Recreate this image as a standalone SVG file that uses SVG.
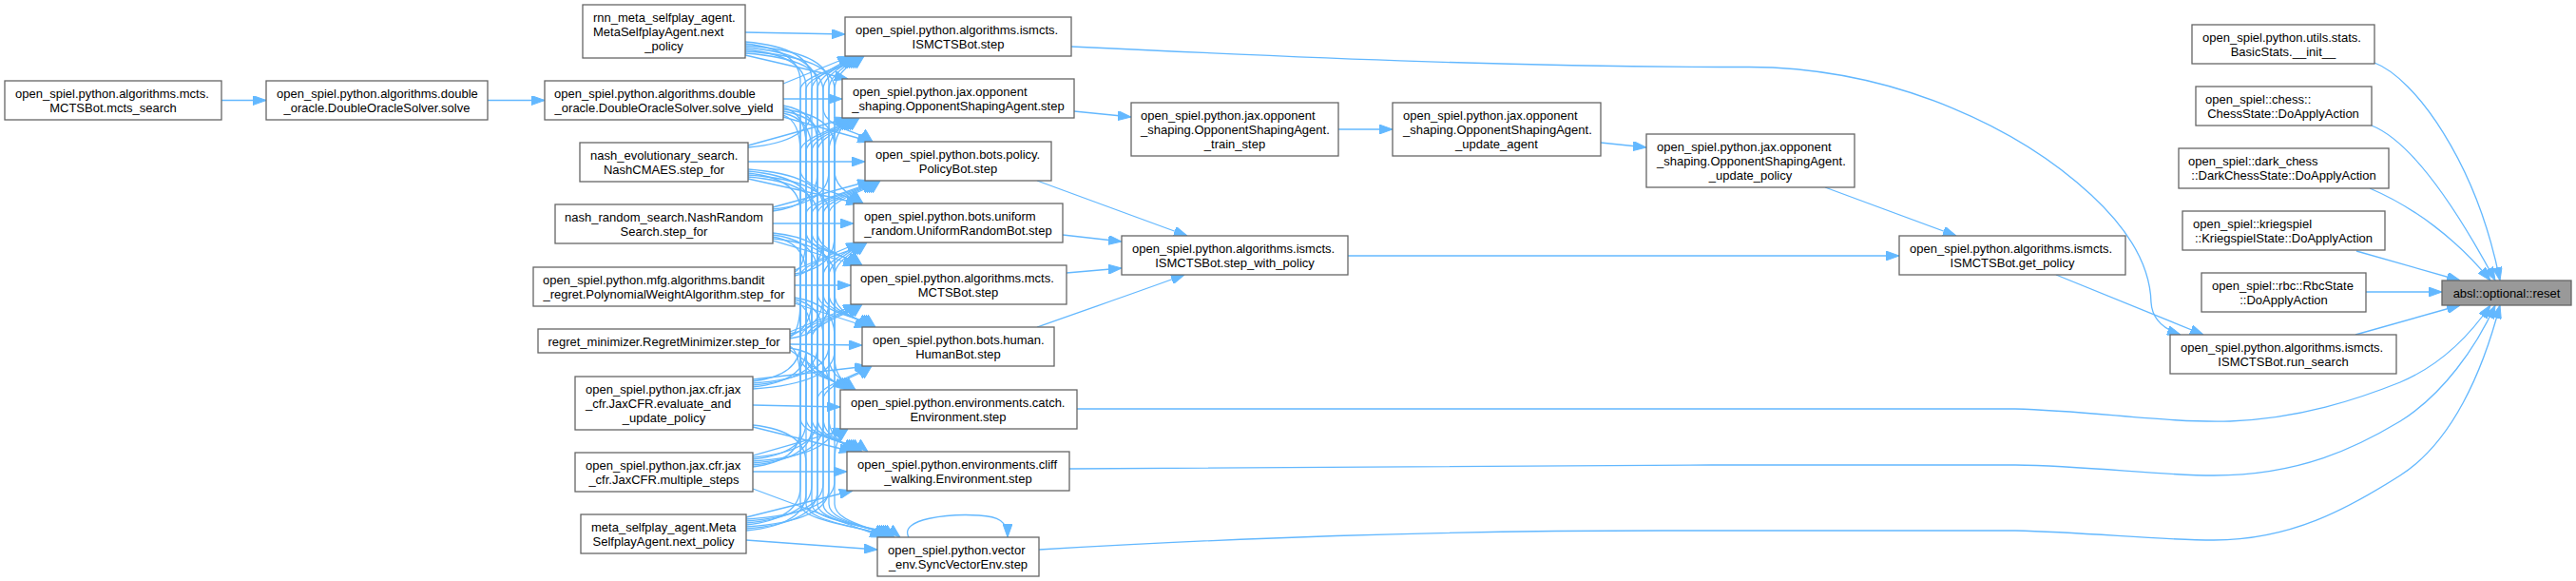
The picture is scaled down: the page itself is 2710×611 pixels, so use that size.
<svg xmlns="http://www.w3.org/2000/svg" width="2710" height="611" viewBox="0 0 2710 611">
<defs>
<style>
.node rect{fill:#fff;stroke:#666;stroke-width:1.3}
.node.focus rect{fill:#999;stroke:#666}
.node text{font-family:"Liberation Sans",Arial,Helvetica,sans-serif;font-size:13px;fill:#000}
.node text.c{text-anchor:middle}
.e{fill:none;stroke:#63b8ff;stroke-width:1.3;marker-end:url(#ah)}
</style>
<marker id="ah" viewBox="0 0 14 10" refX="14" refY="5" markerWidth="14" markerHeight="10" markerUnits="userSpaceOnUse" orient="auto">
<path d="M0,0 L14,5 L0,10 z" fill="#63b8ff" stroke="#63b8ff" stroke-width="1"/>
</marker>
</defs>
<rect width="2710" height="611" fill="#fff"/>
<g id="edges">
<path class="e" d="M233,105.5 L280,105.5"/>
<path class="e" d="M513,105.5 L573,105.5"/>
<path class="e" d="M784,34 L889,36"/>
<path class="e" d="M824,104 L886,104"/>
<path class="e" d="M787,170 L910,170"/>
<path class="e" d="M813,235 L898,235"/>
<path class="e" d="M836,300 L895,300"/>
<path class="e" d="M831,362 L907,363"/>
<path class="e" d="M792,426 L884,428"/>
<path class="e" d="M792,496 L891,496"/>
<path class="e" d="M785,568 L923,578"/>
<path class="e" d="M784,58 L892,83"/>
<path class="e" d="M784,56 C825,59 866,68 866,96 L866,114 C866,134 906,139 918,149"/>
<path class="e" d="M784,54 C831,57 878,66 878,94 L878,179 C878,199 896,204 908,214"/>
<path class="e" d="M784,52 C816,55 848,64 848,92 L848,244 C848,264 895,269 907,279"/>
<path class="e" d="M784,50 C822,53 860,62 860,90 L860,309 C860,329 909,334 921,344"/>
<path class="e" d="M784,48 C828,51 872,60 872,88 L872,375 C872,395 888,400 900,410"/>
<path class="e" d="M784,46 C813,49 842,58 842,86 L842,440 C842,460 901,465 913,475"/>
<path class="e" d="M784,44 C819,47 854,56 854,84 L854,530 C854,550 935,555 947,565"/>
<path class="e" d="M824,88 L895,59"/>
<path class="e" d="M824,123 L916,149"/>
<path class="e" d="M824,121 C833,124 842,133 842,161 L842,179 C842,199 894,204 906,214"/>
<path class="e" d="M824,119 C839,122 854,131 854,159 L854,244 C854,264 893,269 905,279"/>
<path class="e" d="M824,117 C845,120 866,129 866,157 L866,309 C866,329 907,334 919,344"/>
<path class="e" d="M824,115 C851,118 878,127 878,155 L878,375 C878,395 886,400 898,410"/>
<path class="e" d="M824,113 C836,116 848,125 848,153 L848,440 C848,460 895,465 907,475"/>
<path class="e" d="M824,111 C842,114 860,123 860,151 L860,530 C860,550 929,555 941,565"/>
<path class="e" d="M787,155 C820,152 854,143 854,115 L854,94 C854,79 885,69 897,59"/>
<path class="e" d="M787,153 L892,124"/>
<path class="e" d="M787,188 L904,214"/>
<path class="e" d="M787,186 C823,189 860,198 860,226 L860,244 C860,264 891,269 903,279"/>
<path class="e" d="M787,184 C829,187 872,196 872,224 L872,309 C872,329 905,334 917,344"/>
<path class="e" d="M787,182 C814,185 842,194 842,222 L842,375 C842,395 884,400 896,410"/>
<path class="e" d="M787,180 C820,183 854,192 854,220 L854,440 C854,460 893,465 905,475"/>
<path class="e" d="M787,178 C826,181 866,190 866,218 L866,530 C866,550 927,555 939,565"/>
<path class="e" d="M813,222 C836,219 860,210 860,182 L860,94 C860,79 887,69 899,59"/>
<path class="e" d="M813,220 C842,217 872,208 872,180 L872,159 C872,144 882,134 894,124"/>
<path class="e" d="M813,218 L916,190"/>
<path class="e" d="M813,253 L901,279"/>
<path class="e" d="M813,251 C845,254 878,263 878,291 L878,309 C878,329 903,334 915,344"/>
<path class="e" d="M813,249 C830,252 848,261 848,289 L848,375 C848,395 882,400 894,410"/>
<path class="e" d="M813,247 C836,250 860,259 860,287 L860,440 C860,460 891,465 903,475"/>
<path class="e" d="M813,245 C842,248 872,257 872,285 L872,530 C872,550 925,555 937,565"/>
<path class="e" d="M836,290 C851,287 866,278 866,250 L866,94 C866,79 889,69 901,59"/>
<path class="e" d="M836,288 C857,285 878,276 878,248 L878,159 C878,144 884,134 896,124"/>
<path class="e" d="M836,286 C842,283 848,274 848,246 L848,225 C848,210 906,200 918,190"/>
<path class="e" d="M836,284 L904,255"/>
<path class="e" d="M836,319 L913,344"/>
<path class="e" d="M836,317 C845,320 854,329 854,357 L854,375 C854,395 880,400 892,410"/>
<path class="e" d="M836,315 C851,318 866,327 866,355 L866,440 C866,460 889,465 901,475"/>
<path class="e" d="M836,313 C857,316 878,325 878,353 L878,530 C878,550 923,555 935,565"/>
<path class="e" d="M831,356 C851,353 872,344 872,316 L872,94 C872,79 891,69 903,59"/>
<path class="e" d="M831,355 C836,352 842,343 842,315 L842,159 C842,144 886,134 898,124"/>
<path class="e" d="M831,353 C842,350 854,341 854,313 L854,225 C854,210 908,200 920,190"/>
<path class="e" d="M831,351 C848,348 866,339 866,311 L866,290 C866,275 894,265 906,255"/>
<path class="e" d="M831,349 L901,320"/>
<path class="e" d="M831,368 L890,410"/>
<path class="e" d="M831,366 C851,369 872,378 872,406 L872,440 C872,460 887,465 899,475"/>
<path class="e" d="M831,364 C836,367 842,376 842,404 L842,530 C842,550 921,555 933,565"/>
<path class="e" d="M792,409 C835,406 878,397 878,369 L878,94 C878,79 893,69 905,59"/>
<path class="e" d="M792,407 C820,404 848,395 848,367 L848,159 C848,144 888,134 900,124"/>
<path class="e" d="M792,405 C826,402 860,393 860,365 L860,225 C860,210 910,200 922,190"/>
<path class="e" d="M792,403 C832,400 872,391 872,363 L872,290 C872,275 896,265 908,255"/>
<path class="e" d="M792,401 C817,398 842,389 842,361 L842,355 C842,340 891,330 903,320"/>
<path class="e" d="M792,399 L913,385"/>
<path class="e" d="M792,449 L897,475"/>
<path class="e" d="M792,447 C820,450 848,459 848,487 L848,530 C848,550 919,555 931,565"/>
<path class="e" d="M792,491 C817,488 842,479 842,451 L842,94 C842,79 895,69 907,59"/>
<path class="e" d="M792,489 C823,486 854,477 854,449 L854,159 C854,144 890,134 902,124"/>
<path class="e" d="M792,487 C829,484 866,475 866,447 L866,225 C866,210 912,200 924,190"/>
<path class="e" d="M792,485 C835,482 878,473 878,445 L878,290 C878,275 898,265 910,255"/>
<path class="e" d="M792,483 C820,480 848,471 848,443 L848,355 C848,340 893,330 905,320"/>
<path class="e" d="M792,481 C826,478 860,469 860,441 L860,420 C860,405 903,395 915,385"/>
<path class="e" d="M792,479 L890,451"/>
<path class="e" d="M792,514 L929,565"/>
<path class="e" d="M785,558 C816,555 848,546 848,518 L848,94 C848,79 897,69 909,59"/>
<path class="e" d="M785,556 C822,553 860,544 860,516 L860,159 C860,144 892,134 904,124"/>
<path class="e" d="M785,554 C828,551 872,542 872,514 L872,225 C872,210 914,200 926,190"/>
<path class="e" d="M785,552 C813,549 842,540 842,512 L842,290 C842,275 900,265 912,255"/>
<path class="e" d="M785,550 C819,547 854,538 854,510 L854,355 C854,340 895,330 907,320"/>
<path class="e" d="M785,548 C825,545 866,536 866,508 L866,420 C866,405 905,395 917,385"/>
<path class="e" d="M785,546 C831,543 878,534 878,506 L878,486 C878,471 880,461 892,451"/>
<path class="e" d="M785,544 L897,516"/>
<path class="e" d="M956,565 C945,545 1000,540 1030,542 C1050,543 1060,548 1060,565"/>
<path class="e" d="M1127,49 C1400,62 1600,70.5 1840,70.5 C2000,71 2130,140 2200,205 C2240,242 2262,280 2263,318 C2264,336 2276,346 2294,352"/>
<path class="e" d="M1130,117 L1190,123"/>
<path class="e" d="M1408,136 L1465,136"/>
<path class="e" d="M1684,150 L1732,155"/>
<path class="e" d="M1920,197 L2058,248"/>
<path class="e" d="M1091,190 L1249,248"/>
<path class="e" d="M1118,247 L1180,254"/>
<path class="e" d="M1122,287 L1180,282"/>
<path class="e" d="M1091,344 C1150,323 1200,306 1246,289"/>
<path class="e" d="M1418,269 L1998,269"/>
<path class="e" d="M2163,289 L2318,352"/>
<path class="e" d="M2478,352 L2588,321"/>
<path class="e" d="M1133,430 L2120,430 C2200,432 2280,445 2346,443 C2420,440 2480,420 2525,402 C2570,383 2600,350 2620,321"/>
<path class="e" d="M1125,493 C1400,490 1600,489 1800,489 L2120,489 C2200,490 2270,500 2329,500 C2420,500 2480,470 2525,443 C2570,415 2605,365 2625,321"/>
<path class="e" d="M1093,578 C1300,566 1500,558 1750,558 L2120,558 C2200,560 2270,568 2329,568 C2410,568 2470,535 2525,500 C2580,465 2612,390 2630,321"/>
<path class="e" d="M2498,66 C2540,82 2605,170 2630,295"/>
<path class="e" d="M2495,132 C2540,150 2590,230 2625,295"/>
<path class="e" d="M2493,198 C2540,218 2585,252 2620,295"/>
<path class="e" d="M2479,264 L2588,295"/>
<path class="e" d="M2489,307 L2569,307"/>
</g>
<g id="n_mcts_search" class="node"><rect x="5" y="85" width="228" height="41"/><text x="16" y="102.5">open_spiel.python.algorithms.mcts.</text><text class="c" x="119" y="117.5">MCTSBot.mcts_search</text></g>
<g id="n_solve" class="node"><rect x="280" y="85" width="233" height="41"/><text x="291" y="102.5">open_spiel.python.algorithms.double</text><text class="c" x="396.5" y="117.5">_oracle.DoubleOracleSolver.solve</text></g>
<g id="n_rnn_meta" class="node"><rect x="613" y="5" width="171" height="56"/><text x="624" y="22.5">rnn_meta_selfplay_agent.</text><text x="624" y="37.5">MetaSelfplayAgent.next</text><text class="c" x="698.5" y="52.5">_policy</text></g>
<g id="n_solve_yield" class="node"><rect x="573" y="85" width="251" height="41"/><text x="583" y="102.5">open_spiel.python.algorithms.double</text><text class="c" x="698.5" y="117.5">_oracle.DoubleOracleSolver.solve_yield</text></g>
<g id="n_nash_evo" class="node"><rect x="610" y="150" width="177" height="41"/><text x="621" y="167.5">nash_evolutionary_search.</text><text class="c" x="698.5" y="182.5">NashCMAES.step_for</text></g>
<g id="n_nash_random" class="node"><rect x="584" y="215" width="229" height="41"/><text x="594" y="232.5">nash_random_search.NashRandom</text><text class="c" x="698.5" y="247.5">Search.step_for</text></g>
<g id="n_bandit" class="node"><rect x="561" y="281" width="275" height="41"/><text x="571" y="298.5">open_spiel.python.mfg.algorithms.bandit</text><text class="c" x="698.5" y="313.5">_regret.PolynomialWeightAlgorithm.step_for</text></g>
<g id="n_regret" class="node"><rect x="566" y="346" width="265" height="25"/><text class="c" x="698.5" y="363.5">regret_minimizer.RegretMinimizer.step_for</text></g>
<g id="n_evaluate" class="node"><rect x="605" y="396" width="187" height="56"/><text x="616" y="413.5">open_spiel.python.jax.cfr.jax</text><text x="616" y="428.5">_cfr.JaxCFR.evaluate_and</text><text class="c" x="698.5" y="443.5">_update_policy</text></g>
<g id="n_multiple" class="node"><rect x="605" y="476" width="187" height="41"/><text x="616" y="493.5">open_spiel.python.jax.cfr.jax</text><text class="c" x="698.5" y="508.5">_cfr.JaxCFR.multiple_steps</text></g>
<g id="n_meta_selfplay" class="node"><rect x="611" y="541" width="174" height="41"/><text x="622" y="558.5">meta_selfplay_agent.Meta</text><text class="c" x="698" y="573.5">SelfplayAgent.next_policy</text></g>
<g id="n_ismcts_step" class="node"><rect x="889" y="18" width="238" height="41"/><text x="900" y="35.5">open_spiel.python.algorithms.ismcts.</text><text class="c" x="1008" y="50.5">ISMCTSBot.step</text></g>
<g id="n_opp_step" class="node"><rect x="886" y="83" width="244" height="41"/><text x="897" y="100.5">open_spiel.python.jax.opponent</text><text class="c" x="1008" y="115.5">_shaping.OpponentShapingAgent.step</text></g>
<g id="n_policybot" class="node"><rect x="910" y="149" width="196" height="41"/><text x="921" y="166.5">open_spiel.python.bots.policy.</text><text class="c" x="1008" y="181.5">PolicyBot.step</text></g>
<g id="n_uniform" class="node"><rect x="898" y="214" width="220" height="41"/><text x="909" y="231.5">open_spiel.python.bots.uniform</text><text class="c" x="1008" y="246.5">_random.UniformRandomBot.step</text></g>
<g id="n_mctsbot_step" class="node"><rect x="895" y="279" width="227" height="41"/><text x="905" y="296.5">open_spiel.python.algorithms.mcts.</text><text class="c" x="1008" y="311.5">MCTSBot.step</text></g>
<g id="n_human" class="node"><rect x="907" y="344" width="202" height="41"/><text x="918" y="361.5">open_spiel.python.bots.human.</text><text class="c" x="1008" y="376.5">HumanBot.step</text></g>
<g id="n_catch" class="node"><rect x="884" y="410" width="249" height="41"/><text x="895" y="427.5">open_spiel.python.environments.catch.</text><text class="c" x="1008" y="442.5">Environment.step</text></g>
<g id="n_cliff" class="node"><rect x="891" y="475" width="234" height="41"/><text x="902" y="492.5">open_spiel.python.environments.cliff</text><text class="c" x="1008" y="507.5">_walking.Environment.step</text></g>
<g id="n_sync" class="node"><rect x="923" y="565" width="170" height="41"/><text x="934" y="582.5">open_spiel.python.vector</text><text class="c" x="1008" y="597.5">_env.SyncVectorEnv.step</text></g>
<g id="n_train_step" class="node"><rect x="1190" y="108" width="218" height="56"/><text x="1200" y="125.5">open_spiel.python.jax.opponent</text><text x="1200" y="140.5">_shaping.OpponentShapingAgent.</text><text class="c" x="1299" y="155.5">_train_step</text></g>
<g id="n_update_agent" class="node"><rect x="1465" y="108" width="219" height="56"/><text x="1476" y="125.5">open_spiel.python.jax.opponent</text><text x="1476" y="140.5">_shaping.OpponentShapingAgent.</text><text class="c" x="1574.5" y="155.5">_update_agent</text></g>
<g id="n_step_with_policy" class="node"><rect x="1180" y="248" width="238" height="41"/><text x="1191" y="265.5">open_spiel.python.algorithms.ismcts.</text><text class="c" x="1299" y="280.5">ISMCTSBot.step_with_policy</text></g>
<g id="n_update_policy" class="node"><rect x="1732" y="141" width="219" height="56"/><text x="1743" y="158.5">open_spiel.python.jax.opponent</text><text x="1743" y="173.5">_shaping.OpponentShapingAgent.</text><text class="c" x="1841.5" y="188.5">_update_policy</text></g>
<g id="n_get_policy" class="node"><rect x="1998" y="248" width="238" height="41"/><text x="2009" y="265.5">open_spiel.python.algorithms.ismcts.</text><text class="c" x="2117" y="280.5">ISMCTSBot.get_policy</text></g>
<g id="n_basicstats" class="node"><rect x="2306" y="26" width="192" height="41"/><text x="2317" y="43.5">open_spiel.python.utils.stats.</text><text class="c" x="2402" y="58.5">BasicStats.__init__</text></g>
<g id="n_chess" class="node"><rect x="2310" y="91" width="185" height="41"/><text x="2320" y="108.5">open_spiel::chess::</text><text class="c" x="2402" y="123.5">ChessState::DoApplyAction</text></g>
<g id="n_darkchess" class="node"><rect x="2292" y="156" width="221" height="42"/><text x="2302" y="173.5">open_spiel::dark_chess</text><text class="c" x="2402.5" y="188.5">::DarkChessState::DoApplyAction</text></g>
<g id="n_kriegspiel" class="node"><rect x="2296" y="222" width="213" height="41"/><text x="2307" y="239.5">open_spiel::kriegspiel</text><text class="c" x="2402.5" y="254.5">::KriegspielState::DoApplyAction</text></g>
<g id="n_rbc" class="node"><rect x="2316" y="287" width="173" height="41"/><text x="2327" y="304.5">open_spiel::rbc::RbcState</text><text class="c" x="2402.5" y="319.5">::DoApplyAction</text></g>
<g id="n_reset" class="node focus"><rect x="2569" y="295" width="136" height="26"/><text class="c" x="2637" y="312.5">absl::optional::reset</text></g>
<g id="n_run_search" class="node"><rect x="2283" y="352" width="238" height="41"/><text x="2294" y="369.5">open_spiel.python.algorithms.ismcts.</text><text class="c" x="2402" y="384.5">ISMCTSBot.run_search</text></g>
</svg>
